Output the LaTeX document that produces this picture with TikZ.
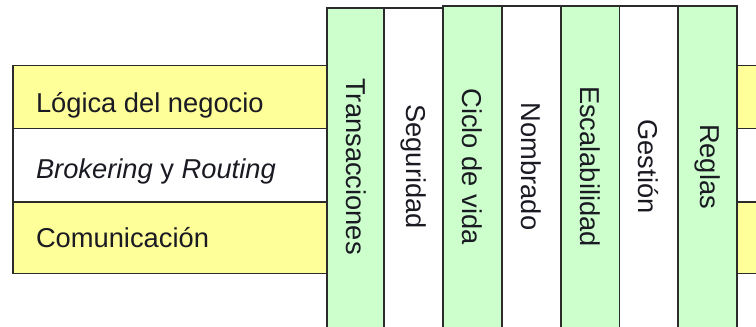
\documentclass[tikz,border=0pt]{standalone}
\usepackage{fontspec}
\setmainfont{Liberation Sans}
\begin{document}
\begin{tikzpicture}[x=1pt,y=-1pt,
  line width=1.6pt,
  every node/.style={inner sep=0pt, outer sep=0pt},
  lbl/.style={font=\fontsize{27.3}{30}\selectfont, text=ink, anchor=base west},
  coltxt/.style={font=\fontsize{27.3}{30}\selectfont, text=ink, rotate=-90}]
\definecolor{edge}{HTML}{2B2B2B}
\definecolor{ink}{HTML}{1A1A22}
\definecolor{layerfill}{HTML}{FFFF99}
\definecolor{colfill}{HTML}{CCFFCC}
\useasboundingbox (0,0) rectangle (756,327);

% horizontal layers on the left
\path[fill=layerfill, draw=edge] (13,65.5) rectangle (340,128.5);
\path[fill=white, draw=edge] (13,128.5) rectangle (340,202);
\path[fill=layerfill, draw=edge] (13,202) rectangle (340,273.5);
\node[lbl] (logica) at (36,112) {Lógica del negocio};
\node[lbl] (brok) at (36,178) {\itshape Brokering\upshape{} y \itshape Routing};
\node[lbl] (comu) at (36,247) {Comunicación};

% horizontal layers continuing on the right
\path[fill=layerfill, draw=edge] (720,65.5) rectangle (770,128.5);
\path[fill=white, draw=edge] (720,128.5) rectangle (770,202);
\path[fill=layerfill, draw=edge] (720,202) rectangle (770,273.5);

% vertical services
\foreach \x/\y/\c/\t [count=\i] in {
  327/8/colfill/Transacciones,
  384/8/white/Seguridad,
  443/6/colfill/Ciclo de vida,
  502/6/white/Nombrado,
  561/6/colfill/Escalabilidad,
  619.5/6/white/Gestión,
  678/6/colfill/Reglas}{
  \path[fill=\c, draw=edge] (\x,\y) rectangle ++(58.8,330);
  \node[coltxt] (c\i) at (\x+29.4,166.5) {\t};
}
\end{tikzpicture}
\end{document}
